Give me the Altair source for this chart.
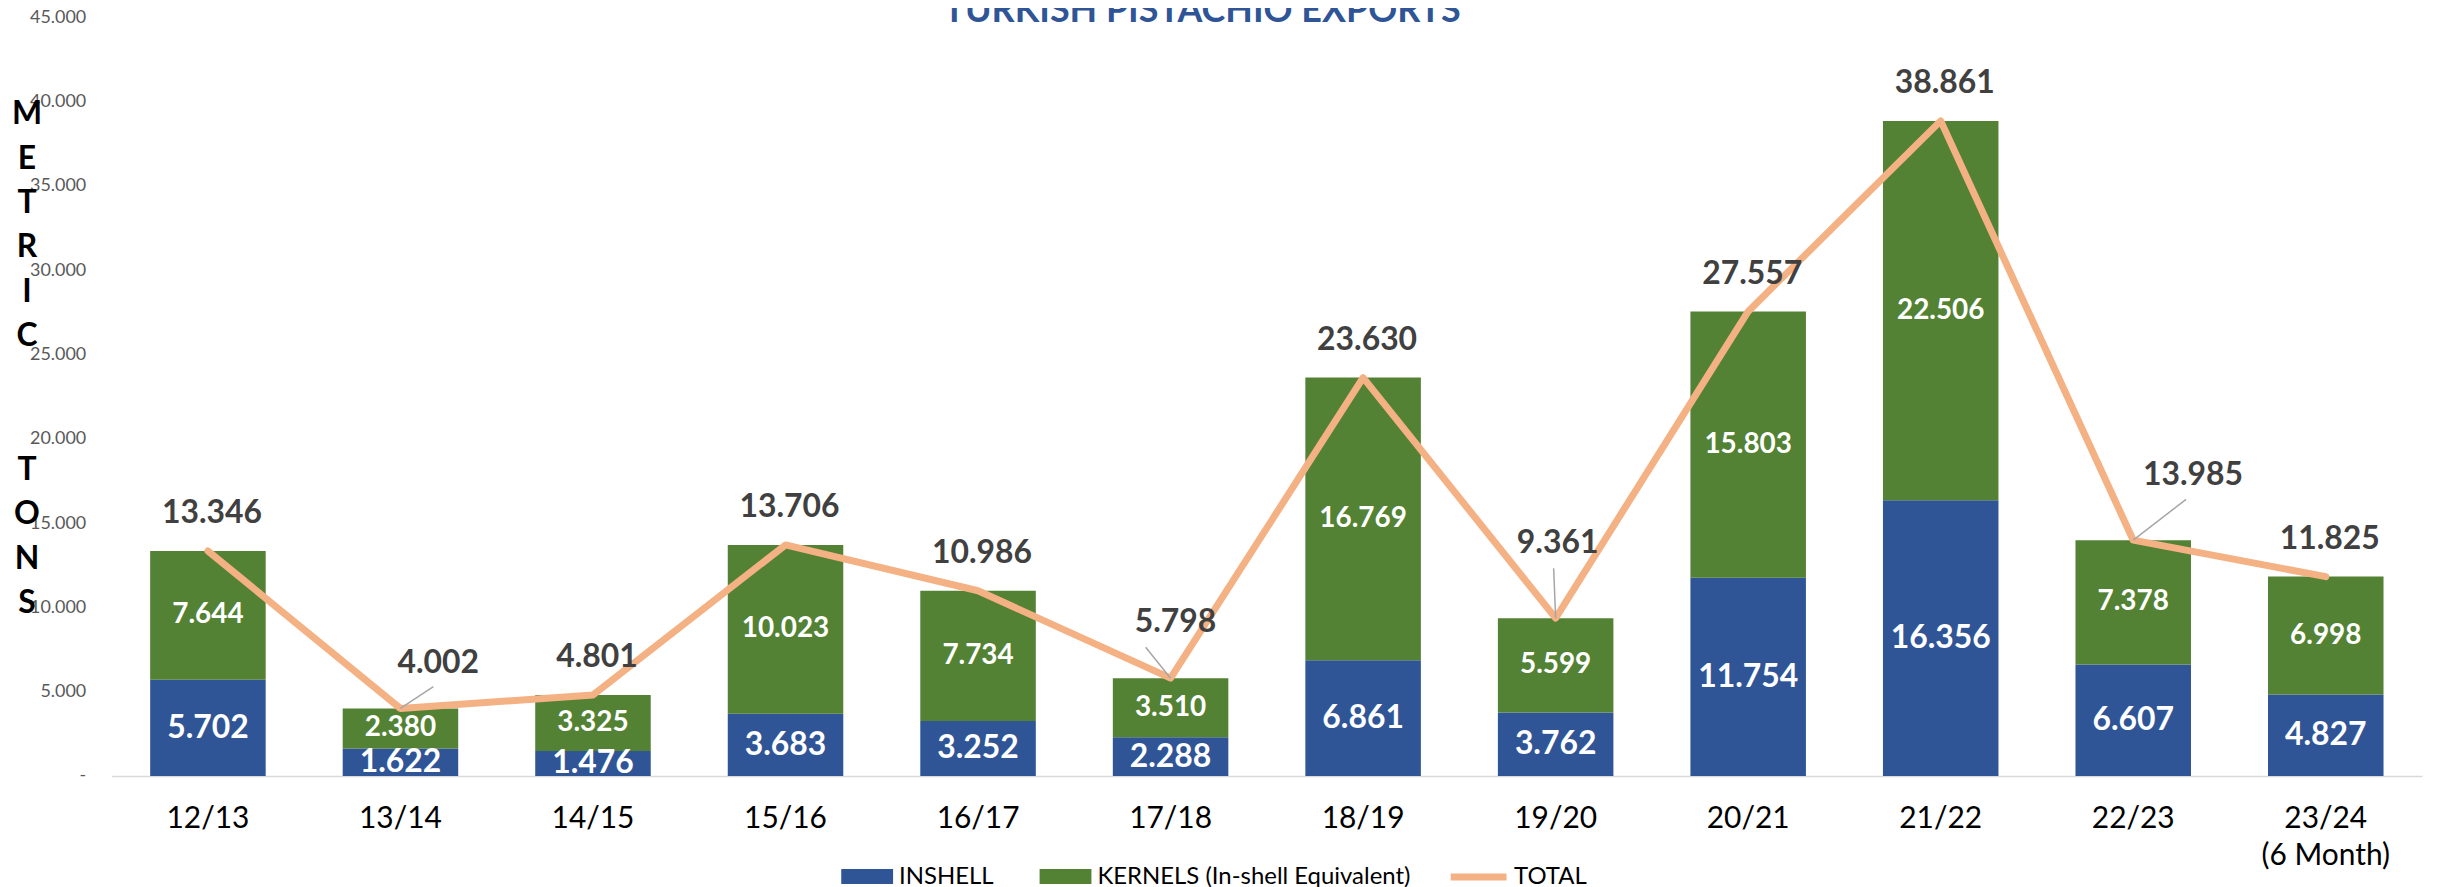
import altair as alt
import pandas as pd

# ---------------- data ----------------
seasons = ["12/13", "13/14", "14/15", "15/16", "16/17", "17/18",
           "18/19", "19/20", "20/21", "21/22", "22/23", "23/24 (6 Month)"]
inshell = [5702, 1622, 1476, 3683, 3252, 2288, 6861, 3762, 11754, 16356, 6607, 4827]
kernels = [7644, 2380, 3325, 10023, 7734, 3510, 16769, 5599, 15803, 22506, 7378, 6998]
totals = [13346, 4002, 4801, 13706, 10986, 5798, 23630, 9361, 27557, 38861, 13985, 11825]
series_names = ["INSHELL", "KERNELS (In-shell Equivalent)"]
line_name = "TOTAL"
y_ticks = [0, 5000, 10000, 15000, 20000, 25000, 30000, 35000, 40000, 45000]
title_text = "TURKISH PISTACHIO EXPORTS"
y_title_word1 = ["M", "E", "T", "R", "I", "C"]
y_title_word2 = ["T", "O", "N", "S"]

# ---------------- styling ----------------
BLUE = "#2F5597"
GREEN = "#548235"
ORANGE = "#F4B183"
LABEL_DARK = "#404040"
FONT = "Lato"
YT_LINE = 44.6

rows = []
for i, s in enumerate(seasons):
    rows.append({"season": s, "series": series_names[0], "value": inshell[i], "order": 0})
    rows.append({"season": s, "series": series_names[1], "value": kernels[i], "order": 1})
bars_df = pd.DataFrame(rows)
tot_df = pd.DataFrame({"season": seasons, "total": totals, "name": [line_name] * len(seasons)})
title_df = pd.DataFrame({"t": [title_text]})
ytitle_df = pd.DataFrame({"k": [0]})

fmt = "replace(format(datum.{f}, ','), ',', '.')"

x_enc = alt.X(
    "season:N", sort=seasons,
    scale=alt.Scale(paddingInner=0.4, paddingOuter=0.2),
    axis=alt.Axis(
        title=None, labelAngle=0, labelFontSize=30, labelColor="black",
        labelFont=FONT, domainColor="#D9D9D9", domainWidth=1.5, ticks=False,
        labelPadding=28, labelLineHeight=37,
        labelExpr="datum.label == '23/24 (6 Month)' ? ['23/24', '(6 Month)'] : datum.label",
    ),
)

y_scale = alt.Scale(domain=[0, 45000], nice=False)
y_axis = alt.Axis(
    title=None,
    values=y_ticks, grid=False, domain=False, ticks=False,
    labelFontSize=18, labelColor="#595959", labelFont=FONT, labelPadding=26,
    labelExpr="datum.value == 0 ? '-\u00a0\u00a0\u00a0' : replace(format(datum.value, ','), ',', '.')",
)

stacked = alt.Chart(bars_df).transform_stack(
    stack="value", groupby=["season"], as_=["v0", "v1"],
    sort=[alt.SortField("order", order="ascending")],
)

bars = stacked.mark_bar().encode(
    x=x_enc,
    y=alt.Y("v1:Q", scale=y_scale, axis=y_axis),
    y2="v0:Q",
    color=alt.Color(
        "series:N",
        scale=alt.Scale(domain=series_names, range=[BLUE, GREEN]),
        legend=alt.Legend(
            title=None, orient="none", direction="horizontal",
            legendX=732, legendY=836,
            symbolType="M-1,-0.29H1V0.29H-1Z", symbolSize=2704,
            symbolStrokeWidth=0, symbolOpacity=1,
            labelFontSize=24, labelFont=FONT, labelColor="black", labelLimit=0,
            labelOffset=6, columnPadding=46, padding=0,
        ),
    ),
)

seg_labels = stacked.transform_calculate(
    mid="(datum.v0 + datum.v1) / 2",
    lbl=fmt.format(f="value"),
).mark_text(color="white", fontWeight="bold", font=FONT, baseline="middle").encode(
    x=x_enc,
    y=alt.Y("mid:Q", scale=y_scale, axis=y_axis),
    text="lbl:N",
    size=alt.condition(alt.datum.series == series_names[0], alt.value(32), alt.value(28)),
)

line = alt.Chart(tot_df).mark_line(strokeWidth=7, strokeCap="round", strokeJoin="round").encode(
    x=x_enc,
    y=alt.Y("total:Q", scale=y_scale, axis=y_axis),
    stroke=alt.Stroke(
        "name:N",
        scale=alt.Scale(domain=[line_name], range=[ORANGE]),
        legend=alt.Legend(
            title=None, orient="none", direction="horizontal",
            legendX=1340, legendY=831,
            symbolType="stroke", symbolSize=3136, symbolStrokeWidth=7,
            labelFontSize=24, labelFont=FONT, labelColor="black", labelLimit=0,
            labelOffset=4, padding=0,
        ),
    ),
)

# label shifts (dx, dy) and leader-line ends (dx, dy) for displaced labels
SHIFT = {
    "13/14": (38, -46, 33, -22),
    "17/18": (5, -56, -25, -31),
    "19/20": (2, -75, -2, -50),
    "22/23": (60, -65, 53, -41),
}

tot_base = alt.Chart(tot_df).transform_calculate(lbl=fmt.format(f="total"))

std_labels = tot_base.transform_filter(
    ~alt.FieldOneOfPredicate(field="season", oneOf=list(SHIFT.keys()))
).mark_text(
    color=LABEL_DARK, fontWeight="bold", font=FONT, fontSize=32, baseline="middle", dx=4, dy=-38
).encode(x=x_enc, y=alt.Y("total:Q", scale=y_scale, axis=y_axis), text="lbl:N")

layers = [bars, seg_labels, line, std_labels]
for s, (ldx, ldy, rdx, rdy) in SHIFT.items():
    sub = tot_base.transform_filter(alt.datum.season == s)
    layers.append(
        sub.mark_rule(color="#A6A6A6", strokeWidth=1.5, x2Offset=rdx, y2Offset=rdy).encode(
            x=x_enc, x2="season:N",
            y=alt.Y("total:Q", scale=y_scale, axis=y_axis), y2="total:Q",
        )
    )
    layers.append(
        sub.mark_text(
            color=LABEL_DARK, fontWeight="bold", font=FONT, fontSize=32, baseline="middle",
            dx=ldx, dy=ldy,
        ).encode(x=x_enc, y=alt.Y("total:Q", scale=y_scale, axis=y_axis), text="lbl:N")
    )

title = alt.Chart(title_df).mark_text(
    color=BLUE, fontWeight="bold", font=FONT, fontSize=36, baseline="alphabetic", align="center"
).encode(text="t:N", x=alt.value(1094), y=alt.value(5))
layers.append(title)

# stacked-letter axis title "METRIC TONS"
for word, top in ((y_title_word1, 82), (y_title_word2, 82 + 8 * YT_LINE)):
    layers.append(
        alt.Chart(ytitle_df).mark_text(
            text=word, color="black", fontWeight="bold", font=FONT, fontSize=32,
            lineHeight=YT_LINE, align="center", baseline="top",
        ).encode(x=alt.value(-85), y=alt.value(top))
    )

chart = alt.layer(*layers).properties(
    width=2318, height=761,
    autosize=alt.AutoSizeParams(type="none"),
    padding={"left": 104, "top": 8, "right": 10, "bottom": 110},
).configure(font=FONT).configure_view(stroke=None)

chart.save("out.html", embed_options={"renderer": "svg", "actions": False})
